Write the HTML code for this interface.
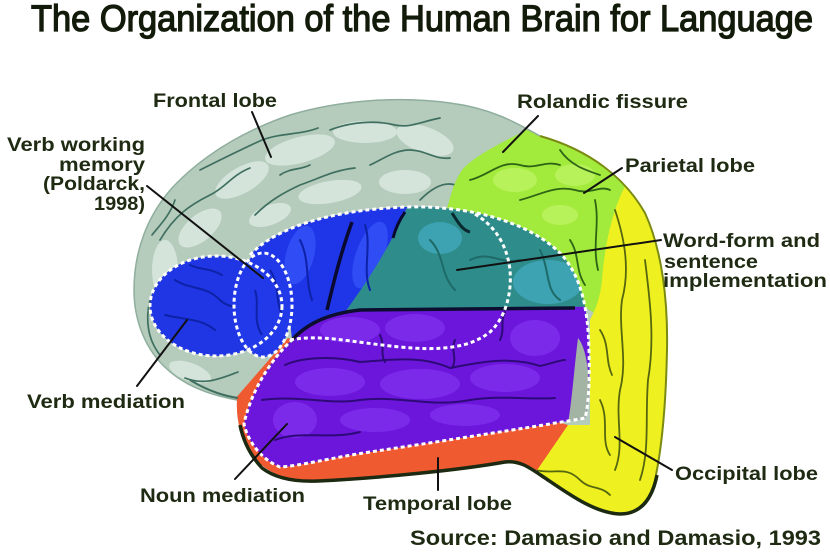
<!DOCTYPE html>
<html><head><meta charset="utf-8"><style>
html,body{margin:0;padding:0;background:#fff;}
svg{display:block;}
.lb{font-family:"Liberation Sans",Arial,sans-serif;font-weight:bold;font-size:19.5px;fill:#1e2a12;}
</style></head><body>
<svg width="830" height="553" viewBox="0 0 830 553" xmlns="http://www.w3.org/2000/svg">
<defs>
<clipPath id="sil"><path d="M237,400 C215,396 188,388 168,370 C145,350 134,320 134,290 C134,250 148,215 172,188 C200,158 240,132 290,115 C340,100 400,96 450,103 C490,108 515,122 540,136 C590,150 625,178 645,213 C662,250 668,300 667,350 C666,400 663,440 656,475 C650,500 638,515 618,514 C592,512 565,490 540,475 C525,466 515,460 505,462 C460,470 380,478 318,481 C283,482 262,470 250,452 C240,436 236,418 237,400 Z"/></clipPath>
<clipPath id="big"><path d="M250,255 C275,228 330,210 405,207 C470,205 530,222 562,255 C582,278 588,310 589,350 C590,385 588,408 585,418 C570,421 560,422 550,424 C500,432 430,443 370,452 C330,458 300,466 280,467 C262,460 248,442 244,424 C250,395 268,362 292,340 C290,310 280,275 250,255 Z"/></clipPath>
</defs>
<rect width="830" height="553" fill="#fff"/>

<!-- Title -->
<text x="31" y="31" textLength="782" lengthAdjust="spacingAndGlyphs" style="font-family:'Liberation Sans',Arial,sans-serif;font-size:37px;fill:#121a0a;stroke:#121a0a;stroke-width:1.3px;">The Organization of the Human Brain for Language</text>

<g clip-path="url(#sil)">
  <rect x="120" y="90" width="600" height="450" fill="#b5cbbb"/>
  <g fill="#d4e4db">
    <ellipse cx="200" cy="228" rx="26" ry="13" transform="rotate(-40 200 228)"/>
    <ellipse cx="242" cy="180" rx="30" ry="13" transform="rotate(-30 242 180)"/>
    <ellipse cx="300" cy="150" rx="36" ry="13" transform="rotate(-15 300 150)"/>
    <ellipse cx="365" cy="132" rx="32" ry="11"/>
    <ellipse cx="425" cy="140" rx="30" ry="13" transform="rotate(20 425 140)"/>
    <ellipse cx="330" cy="192" rx="32" ry="11" transform="rotate(-10 330 192)"/>
    <ellipse cx="405" cy="182" rx="26" ry="12"/>
    <ellipse cx="165" cy="270" rx="13" ry="30"/>
    <ellipse cx="270" cy="215" rx="22" ry="10" transform="rotate(-20 270 215)"/>
    <ellipse cx="190" cy="372" rx="22" ry="9" transform="rotate(20 190 372)"/>
  </g>
  <g fill="none" stroke="#3f6f60" stroke-width="1.7" stroke-linecap="round">
    <path d="M160,240 C175,215 190,205 210,195 C225,188 232,175 250,168"/>
    <path d="M200,170 C220,160 240,150 262,140 C280,133 300,135 318,128"/>
    <path d="M255,215 C270,200 285,192 300,185 C320,178 335,170 355,168"/>
    <path d="M330,130 C350,122 375,120 395,125 C410,128 420,122 440,118"/>
    <path d="M370,165 C385,158 395,150 410,150 C425,150 435,160 450,158"/>
    <path d="M150,300 C145,320 148,340 160,355"/>
    <path d="M185,378 C205,386 222,378 238,372"/>
    <path d="M420,200 C432,188 445,180 458,186"/>
    <path d="M280,175 C290,168 300,170 310,165"/>
    <path d="M175,200 C170,215 160,225 152,235"/>
  </g>
  <path d="M545,120 C520,135 480,150 462,170 C452,185 450,200 445,215 L620,330 L720,300 L720,100 Z" fill="#a2ea3c"/>
  <g fill="#b8f25a">
    <ellipse cx="515" cy="180" rx="22" ry="12"/>
    <ellipse cx="575" cy="175" rx="20" ry="11"/>
    <ellipse cx="560" cy="215" rx="18" ry="10"/>
  </g>
  <g fill="none" stroke="#2f6415" stroke-width="1.8" stroke-linecap="round">
    <path d="M470,180 C490,175 500,160 520,165 C535,170 545,160 560,165"/>
    <path d="M520,200 C540,195 555,185 575,190 C590,195 600,185 610,190"/>
    <path d="M560,150 C570,165 585,170 600,175"/>
    <path d="M595,200 C600,225 592,245 598,270"/>
    <path d="M570,240 C580,255 575,270 585,285"/>
  </g>
  <path d="M630,178 C615,200 605,240 602,280 C600,300 595,310 590,320 L590,425 L555,425 L505,455 L520,540 L720,540 L720,150 Z" fill="#eef020"/>
  <g fill="none" stroke="#56660f" stroke-width="1.8" stroke-linecap="round">
    <path d="M615,210 C625,240 630,270 622,300 C618,330 628,360 620,390 C615,420 625,445 615,470"/>
    <path d="M600,330 C610,345 605,360 612,375"/>
    <path d="M535,470 C555,475 565,465 580,480 C590,490 600,485 610,495"/>
    <path d="M600,400 C610,420 600,440 610,455"/>
    <path d="M645,260 C650,300 655,340 648,380 C645,420 650,450 640,480"/>
  </g>
  <path d="M288,338 L234,400 L240,495 L520,495 L568,425 Z" fill="#f05a30"/>
</g>

<g clip-path="url(#big)">
  <rect x="230" y="195" width="380" height="290" fill="#1e36e8"/>
  <g fill="#2f4cf5">
    <ellipse cx="300" cy="255" rx="14" ry="30" transform="rotate(15 300 255)"/>
    <ellipse cx="370" cy="255" rx="14" ry="35" transform="rotate(20 370 255)"/>
  </g>
  <path d="M412,195 L620,195 L620,312 L345,312 C365,285 395,240 412,195 Z" fill="#2e8c8a"/>
  <g fill="#3da2b2">
    <ellipse cx="548" cy="282" rx="35" ry="22"/>
    <ellipse cx="440" cy="238" rx="22" ry="16"/>
  </g>
  <g fill="none" stroke="#1d6a68" stroke-width="2" stroke-linecap="round">
    <path d="M430,240 C445,255 440,275 455,290"/>
    <path d="M470,260 C490,250 500,265 520,260"/>
    <path d="M540,250 C550,270 545,290 560,300"/>
  </g>
  <path d="M452,213 C458,222 462,230 470,232" stroke="#0a2a30" stroke-width="3" fill="none"/>
  <path d="M230,480 L230,345 L288,345 C305,322 330,312 360,311 L620,306 L620,480 Z" fill="#6c16dc"/>
  <g fill="#7c2aea">
    <ellipse cx="350" cy="330" rx="30" ry="13"/>
    <ellipse cx="415" cy="328" rx="30" ry="14"/>
    <ellipse cx="330" cy="382" rx="35" ry="14"/>
    <ellipse cx="420" cy="384" rx="40" ry="15"/>
    <ellipse cx="505" cy="378" rx="35" ry="14"/>
    <ellipse cx="295" cy="420" rx="22" ry="18"/>
    <ellipse cx="375" cy="420" rx="35" ry="12"/>
    <ellipse cx="465" cy="415" rx="35" ry="11"/>
    <ellipse cx="535" cy="338" rx="25" ry="18"/>
  </g>
  <g fill="none" stroke="#2e0a78" stroke-width="2" stroke-linecap="round">
    <path d="M285,365 C300,358 330,355 360,362 C390,360 420,355 450,368 C480,362 510,356 540,366 C550,364 560,360 565,360"/>
    <path d="M262,400 C300,395 330,405 360,400 C400,395 430,408 470,400 C500,395 530,400 555,398"/>
    <path d="M380,335 C385,345 380,355 385,362"/>
    <path d="M455,340 C450,350 458,358 452,368"/>
    <path d="M275,440 C300,430 330,440 360,432"/>
    <path d="M505,312 C500,320 505,330 500,340"/>
  </g>
  <path d="M578,338 C590,352 591,400 587,420 L568,423 C572,400 574,370 578,338 Z" fill="#a4b4a4"/>
  <path d="M290,342 C305,325 325,314 360,310 L575,308" stroke="#0d0d30" stroke-width="3.5" fill="none"/>
  <path d="M327,310 C333,285 340,255 352,222" stroke="#0a0a30" stroke-width="3.5" fill="none"/>
  <path d="M405,212 C398,222 395,230 393,238" stroke="#0a0a30" stroke-width="3" fill="none"/>
  <g fill="none" stroke="#0e22a8" stroke-width="2" stroke-linecap="round">
    <path d="M300,240 C310,260 305,280 312,300"/>
    <path d="M365,225 C372,245 362,270 370,290"/>
  </g>
</g>

<ellipse cx="216" cy="306" rx="66" ry="50" fill="#2036e4"/>
<g fill="none" stroke="#0e22a8" stroke-width="2" stroke-linecap="round">
  <path d="M175,280 C190,290 205,285 220,300 C230,310 245,305 255,315"/>
  <path d="M165,315 C185,320 200,318 215,330"/>
  <path d="M190,265 C200,270 210,268 222,275"/>
</g>
<ellipse cx="263" cy="305" rx="29" ry="52" fill="#2239ea"/>
<path d="M270,270 C280,285 275,300 282,315" stroke="#0e22a8" stroke-width="2" fill="none"/>
<path d="M255,290 C260,305 252,320 262,335" stroke="#0e22a8" stroke-width="2" fill="none"/>

<g fill="none" stroke="#ffffff" stroke-width="3" stroke-dasharray="4 3">
  <ellipse cx="216" cy="306" rx="66" ry="50"/>
  <ellipse cx="263" cy="305" rx="29" ry="52"/>
  <path d="M250,255 C275,228 330,210 405,207 C470,205 530,222 562,255 C582,278 588,310 589,350 C590,385 588,408 585,418 C570,421 560,422 550,424 C500,432 430,443 370,452 C330,458 300,466 280,467 C262,460 248,442 244,424 C250,395 268,362 292,340"/>
  <path d="M290,340 C320,334 350,342 400,347 C440,351 470,348 490,332 C505,318 512,295 510,270 C507,245 495,225 473,213"/>
</g>

<path d="M237,400 C215,396 188,388 168,370 C145,350 134,320 134,290 C134,250 148,215 172,188 C200,158 240,132 290,115 C340,100 400,96 450,103 C490,108 515,122 540,136" fill="none" stroke="#8fae9e" stroke-width="1.5"/>
<path d="M540,136 C590,150 625,178 645,213 C662,250 668,300 667,350 C666,400 663,440 656,475" fill="none" stroke="#7a8a12" stroke-width="2"/>
<path d="M240,425 C243,440 250,455 262,468 C275,478 295,482 318,481 C380,478 460,470 505,462 C520,460 530,468 545,478 C570,495 595,513 620,514 C640,514 652,500 657,475" fill="none" stroke="#1c2a12" stroke-width="3.5"/>
<path d="M190,380 C210,392 225,396 238,398" fill="none" stroke="#3f6f60" stroke-width="2"/>

<g stroke="#111" stroke-width="2" stroke-linecap="round">
  <line x1="252" y1="112" x2="271" y2="157"/>
  <line x1="538" y1="116" x2="503" y2="152"/>
  <line x1="622" y1="168" x2="584" y2="193"/>
  <line x1="661" y1="240" x2="457" y2="270"/>
  <line x1="672" y1="470" x2="615" y2="437"/>
  <line x1="147" y1="186" x2="263" y2="278"/>
  <line x1="137" y1="386" x2="187" y2="320"/>
  <line x1="235" y1="479" x2="287" y2="424"/>
  <line x1="438" y1="458" x2="438" y2="490"/>
</g>

<text class="lb" x="153" y="107" textLength="124" lengthAdjust="spacingAndGlyphs">Frontal lobe</text>
<text class="lb" x="7" y="151" textLength="138" lengthAdjust="spacingAndGlyphs">Verb working</text>
<text class="lb" x="59" y="171" textLength="86" lengthAdjust="spacingAndGlyphs">memory</text>
<text class="lb" x="43" y="190" textLength="102" lengthAdjust="spacingAndGlyphs">(Poldarck,</text>
<text class="lb" x="94" y="210" textLength="51" lengthAdjust="spacingAndGlyphs">1998)</text>
<text class="lb" x="27" y="408" textLength="158" lengthAdjust="spacingAndGlyphs">Verb mediation</text>
<text class="lb" x="140" y="502" textLength="165" lengthAdjust="spacingAndGlyphs">Noun mediation</text>
<text class="lb" x="363" y="510" textLength="149" lengthAdjust="spacingAndGlyphs">Temporal lobe</text>
<text class="lb" x="517" y="108" textLength="171" lengthAdjust="spacingAndGlyphs">Rolandic fissure</text>
<text class="lb" x="625" y="172" textLength="130" lengthAdjust="spacingAndGlyphs">Parietal lobe</text>
<text class="lb" x="663" y="247" textLength="157" lengthAdjust="spacingAndGlyphs">Word-form and</text>
<text class="lb" x="664" y="268" textLength="94" lengthAdjust="spacingAndGlyphs">sentence</text>
<text class="lb" x="663" y="287" textLength="164" lengthAdjust="spacingAndGlyphs">implementation</text>
<text class="lb" x="675" y="480" textLength="143" lengthAdjust="spacingAndGlyphs">Occipital lobe</text>
<text class="lb" x="410" y="545" textLength="411" lengthAdjust="spacingAndGlyphs" style="font-size:21px;">Source: Damasio and Damasio, 1993</text>
</svg>
</body></html>
